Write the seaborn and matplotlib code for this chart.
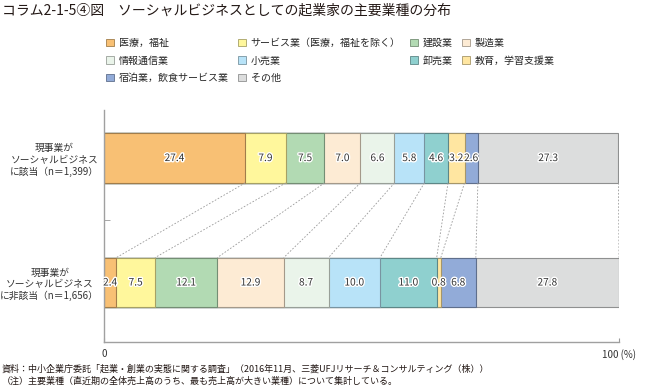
import matplotlib.pyplot as plt
import matplotlib.colors as mcolors
import matplotlib.patheffects as pe
from matplotlib.patches import Patch
import numpy as np
import pandas as pd
import seaborn as sns

# datos
categorias = ["医療，福祉", "サービス業（医療，福祉を除く）", "建設業", "製造業", "情報通信業",
              "小売業", "卸売業", "教育，学習支援業", "宿泊業，飲食サービス業", "その他"]
colores = ["#F8C074", "#FFF79C", "#B2DAB3", "#FDEBD4", "#EAF4EA",
           "#B8E3F8", "#8FD0CF", "#FFE6A1", "#92ABD8", "#DCDDDD"]
grupos = ["現事業が\nソーシャルビジネス\nに該当（n＝1,399）",
          "現事業が\nソーシャルビジネス\nに非該当（n＝1,656）"]
valores_si = [27.4, 7.9, 7.5, 7.0, 6.6, 5.8, 4.6, 3.2, 2.6, 27.3]
valores_no = [2.4, 7.5, 12.1, 12.9, 8.7, 10.0, 11.0, 0.8, 6.8, 27.8]

titulo = "コラム2-1-5④図　ソーシャルビジネスとしての起業家の主要業種の分布"
nota1 = "資料：中小企業庁委託「起業・創業の実態に関する調査」（2016年11月、三菱UFJリサーチ＆コンサルティング（株））"
nota2 = "（注）主要業種（直近期の全体売上高のうち、最も売上高が大きい業種）について集計している。"

sns.set_style("white")
plt.rcParams['font.family'] = ['Noto Sans CJK JP', 'DejaVu Sans']

rows = []
for g, vals in zip(grupos, [valores_si, valores_no]):
    for c, v, s in zip(categorias, vals, np.cumsum(vals)):
        rows.append({'grupo': g, 'industria': c, 'valor': v, 'acum': s})
df = pd.DataFrame(rows)


def oscuro(c, f=0.65):
    r, g, b = mcolors.to_rgb(c)
    return (r * f, g * f, b * f)


fig = plt.figure(figsize=(6.46, 3.88), dpi=100)
ax = fig.add_axes([104 / 646, 1 - 342 / 388, 515 / 646, 232 / 388])

# barras apiladas: se dibuja el acumulado de mayor a menor
for cat, col in reversed(list(zip(categorias, colores))):
    sub = df[df.industria == cat]
    sns.barplot(data=sub, x='acum', y='grupo', order=grupos, orient='h',
                color=col, saturation=1, width=0.4, errorbar=None,
                edgecolor=oscuro(col), linewidth=0.8, ax=ax)

for gi, g in enumerate(grupos):
    sub = df[df.grupo == g]
    for _, r in sub.iterrows():
        ax.text(r.acum - r.valor / 2, gi, f"{r.valor:.1f}", ha='center', va='center',
                fontsize=7.3, color='#333333',
                path_effects=[pe.withStroke(linewidth=2, foreground='white')])

# lineas de union
for a, b in zip(np.cumsum(valores_si), np.cumsum(valores_no)):
    ax.plot([a, b], [0.2, 0.8], ls=(0, (2, 2)), color='#999999', lw=0.6)

ax.set_xlim(0, 100)
ax.set_ylim(1.478, -0.386)
ax.set_xlabel('')
ax.set_ylabel('')
ax.set_xticks([0, 100], ['0', '100 (%)'])
ax.set_yticks([0, 1], grupos)
ax.set_yticks([0.5], minor=True)
ax.tick_params(axis='x', bottom=True, direction='in', length=3, labelsize=7,
               color='#999999', labelcolor='#333333', pad=5)
ax.tick_params(axis='y', which='major', left=False, length=0, labelsize=7,
               labelcolor='#333333', pad=3.5)
ax.tick_params(axis='y', which='minor', left=True, direction='in', length=4,
               color='#999999')
for t in ax.get_yticklabels():
    t.set_multialignment('center')
for s in ['top', 'right']:
    ax.spines[s].set_visible(False)
for s in ['left', 'bottom']:
    ax.spines[s].set_color('#a0a0a0')
    ax.spines[s].set_linewidth(1)

orden = [0, 4, 8, 1, 5, 9, 2, 6, 3, 7]
handles = [Patch(facecolor=colores[i], edgecolor=oscuro(colores[i]), lw=0.6) for i in orden]
labels = [categorias[i] for i in orden]
fig.legend(handles, labels, loc='upper left', bbox_to_anchor=(106 / 646, 1 - 38 / 388),
           ncol=4, frameon=False, fontsize=7.2, handlelength=0.75, handleheight=0.75,
           handletextpad=0.5, columnspacing=0.95, labelspacing=0.75,
           borderpad=0, borderaxespad=0)

fig.text(0.003, 1 - 11 / 388, titulo, fontsize=10, va='center', ha='left', color='#231815')
fig.text(0.003, 1 - 369 / 388, nota1, fontsize=6.5, va='center', ha='left', color='#231815')
fig.text(0.003, 1 - 381 / 388, nota2, fontsize=6.5, va='center', ha='left', color='#231815')

fig.savefig('out.png', dpi=100)
